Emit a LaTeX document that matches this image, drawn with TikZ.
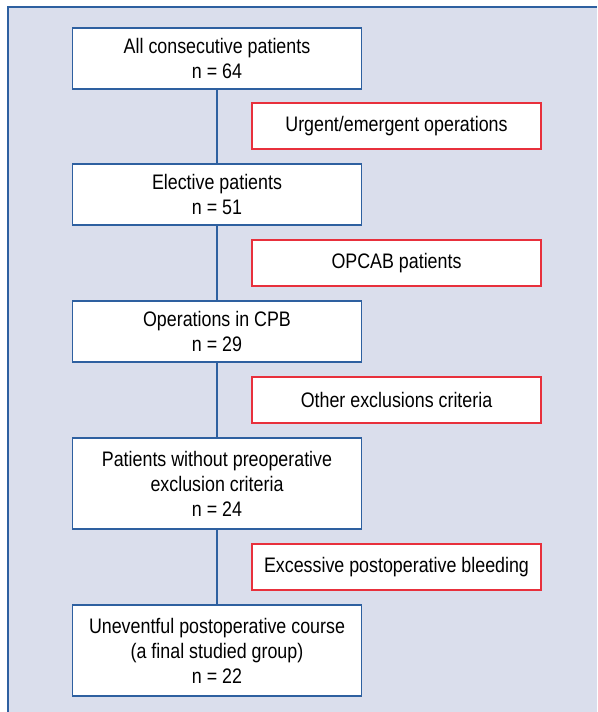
\documentclass[tikz,border=0pt]{standalone}
\usepackage{fontspec}
\setmainfont{Liberation Sans}[FakeStretch=0.85]
\usetikzlibrary{positioning}
\definecolor{panelbg}{RGB}{218,222,236}
\definecolor{boxblue}{RGB}{46,96,160}
\definecolor{boxred}{RGB}{232,48,60}

\begin{document}
\begin{tikzpicture}[x=1pt,y=-1pt]
   \tikzset{StepBox/.style={draw=boxblue,line width=1.5pt,fill=white,
      minimum width=289pt,align=center,inner sep=0pt,
      font=\fontsize{21pt}{25pt}\selectfont}}
   \tikzset{OutBox/.style={draw=boxred,line width=1.5pt,fill=white,
      minimum width=289pt,minimum height=46pt,inner sep=0pt,
      font=\fontsize{21pt}{25pt}\selectfont}}
   \tikzset{Link/.style={draw=boxblue,line width=1.6pt}}
   \useasboundingbox (0,0) rectangle (597,712);
   \fill[panelbg] (8,7) rectangle (597,712);
   \draw[boxblue,line width=1.5pt] (8,712) -- (8,7) -- (597,7);
   \node[StepBox,minimum height=61pt] (All) at (217,58.5)
      {All consecutive patients\\n = 64};
   \node[StepBox,minimum height=61pt] (Elective) at (217,194.5)
      {Elective patients\\n = 51};
   \node[StepBox,minimum height=61pt] (CPB) at (217,331.5)
      {Operations in CPB\\n = 29};
   \node[StepBox,minimum height=91pt] (NoExcl) at (217,483.5)
      {Patients without preoperative\\exclusion criteria\\n = 24};
   \node[StepBox,minimum height=91pt] (Final) at (217,650.5)
      {Uneventful postoperative course\\(a final studied group)\\n = 22};
   \node[OutBox] (Urgent) at (396.5,126) {Urgent/emergent operations};
   \node[OutBox] (Opcab) at (396.5,263) {OPCAB patients};
   \node[OutBox] (Other) at (396.5,400) {Other exclusions criteria};
   \node[OutBox] (Bleed) at (396.5,567) {Excessive postoperative bleeding};
   \draw[Link] (All) -- (Elective);
   \draw[Link] (Elective) -- (CPB);
   \draw[Link] (CPB) -- (NoExcl);
   \draw[Link] (NoExcl) -- (Final);
\end{tikzpicture}
\end{document}
